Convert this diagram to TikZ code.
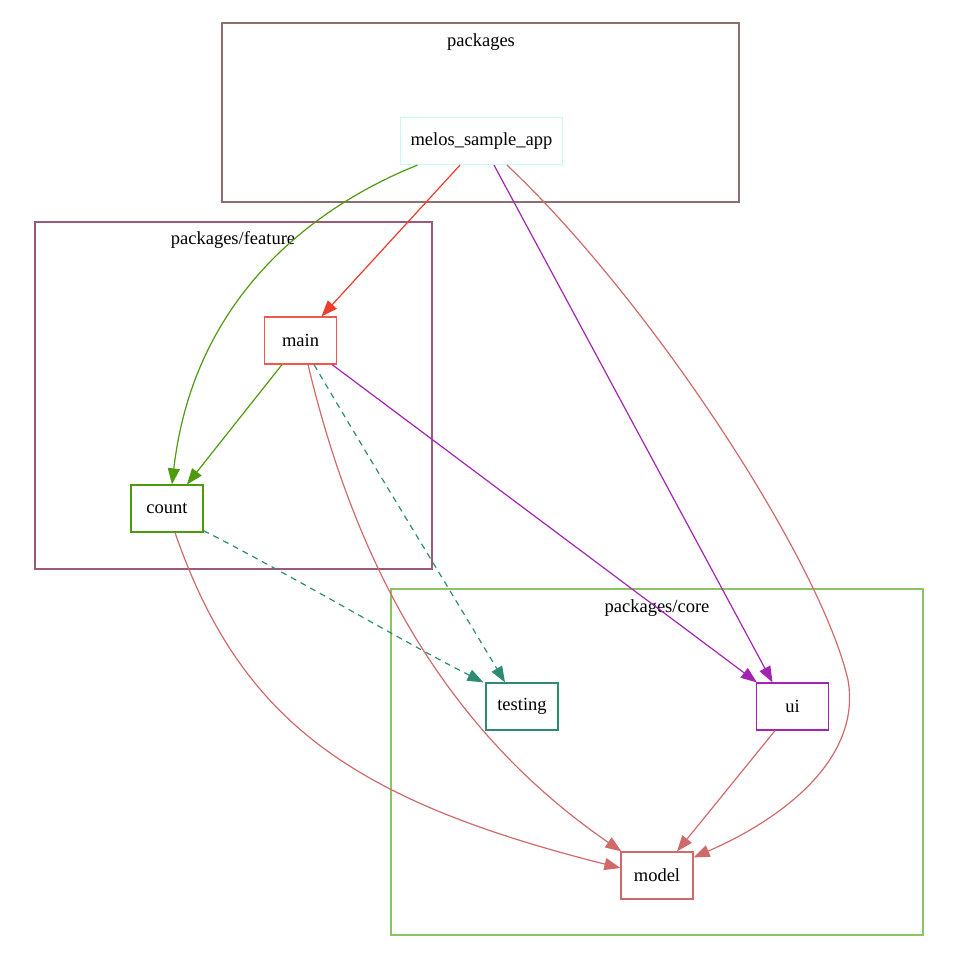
\documentclass[tikz,border=0pt]{standalone}
\usepackage{fontspec}
\setmainfont{Liberation Serif}
\usepackage{xcolor}
\usetikzlibrary{arrows.meta, positioning}

\definecolor{appcol}{HTML}{C8F8F8}
\definecolor{maincol}{HTML}{EE3B2C}
\definecolor{countcol}{HTML}{4E9A0E}
\definecolor{testcol}{HTML}{2E8B73}
\definecolor{uicol}{HTML}{A323B3}
\definecolor{modelcol}{HTML}{D06A6A}
\definecolor{pkgcol}{HTML}{8B6F6F}
\definecolor{featcol}{HTML}{9A5A7A}
\definecolor{corecol}{HTML}{8CC464}

\begin{document}
\begin{tikzpicture}[
  x=1pt, y=-1pt,
  font=\fontsize{18.5}{22}\selectfont,
  pkg/.style={rectangle, draw=#1, fill=white, line width=1.2pt,
              minimum width=72pt, minimum height=47pt, inner xsep=10pt},
  cluster/.style={draw=#1, line width=1.1pt},
  title/.style={anchor=north, inner sep=0pt},
  dep/.style={-{Triangle[length=16pt,width=12pt]}, draw=#1, line width=1.2pt},
  devdep/.style={dep=#1, dash pattern=on 6pt off 5pt}
]
\useasboundingbox (0,0) rectangle (959,960);

% clusters
\draw[cluster=pkgcol]  (222,23)  rectangle (739,202);
\draw[cluster=featcol] (35,222)  rectangle (432,569);
\draw[cluster=corecol] (391,589) rectangle (923,935);
\node[title] (pkgtitle)  at (481,33)  {packages};
\node[title] (feattitle) at (233,231) {packages/feature};
\node[title] (coretitle) at (657,599) {packages/core};

% packages
\node[pkg=appcol]   (app)     at (481.5,141)   {melos\_sample\_app};
\node[pkg=maincol!85!white]  (main)    at (300.5,340.5) {main};
\node[pkg=countcol] (count)   at (167,508.5)   {count};
\node[pkg=testcol]  (testing) at (522,706.5)   {testing};
\node[pkg=uicol]    (ui)      at (792.5,706.5) {ui};
\node[pkg=modelcol] (model)   at (657,875.5)   {model};

% dependencies
\draw[dep=countcol] ([xshift=-64pt]app.south) .. controls (330,200) and (195,285) .. ([xshift=5pt]count.north);
\draw[dep=maincol]  ([xshift=-21.5pt]app.south) -- ([xshift=21pt]main.north);
\draw[dep=uicol]    ([xshift=12.5pt]app.south) -- ([xshift=-20pt]ui.north);
\draw[dep=modelcol] ([xshift=25.5pt]app.south) .. controls (650,300) and (820,560) .. (848,680)
                    .. controls (862,760) and (780,820) .. ([yshift=-6pt]model.north east);

\draw[dep=countcol]   ([xshift=-18.5pt]main.south) -- ([xshift=20pt]count.north);
\draw[devdep=testcol] ([xshift=13.5pt]main.south) .. controls (370,460) and (450,590) .. ([xshift=-17pt]testing.north);
\draw[dep=uicol]      ([xshift=-5pt]main.south east) -- ([xshift=1pt]ui.north west);
\draw[dep=modelcol]   ([xshift=7.5pt]main.south) .. controls (350,540) and (430,720) .. ([xshift=1pt]model.north west);

\draw[devdep=testcol] ([yshift=2pt]count.south east) .. controls (300,580) and (400,640) .. ([xshift=-2pt]testing.north west);
\draw[dep=modelcol]   ([xshift=8pt]count.south) .. controls (240,720) and (350,800) .. ([yshift=7.5pt]model.west);

\draw[dep=modelcol]   ([xshift=-17.5pt]ui.south) -- ([xshift=20pt]model.north);
\end{tikzpicture}
\end{document}
